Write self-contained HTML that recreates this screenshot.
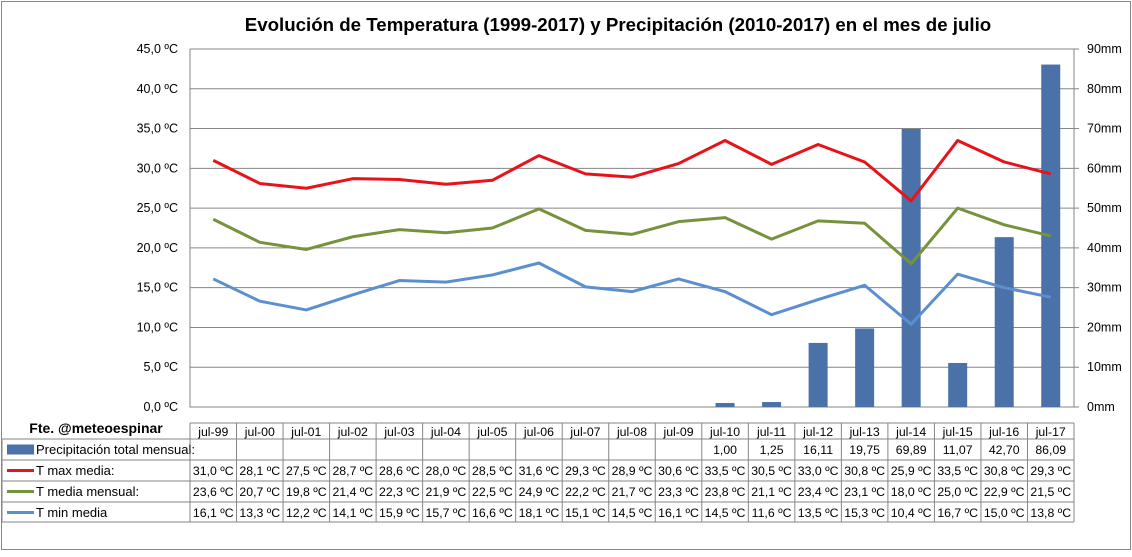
<!DOCTYPE html>
<html><head><meta charset="utf-8">
<style>
body{margin:0;background:#fff;}
svg text{font-family:"Liberation Sans",sans-serif;fill:#000;}
</style></head>
<body>
<svg id="c" width="1132" height="552" xmlns="http://www.w3.org/2000/svg">
<rect x="1.5" y="1.5" width="1129" height="548" fill="#fff" stroke="#888"/>
<text x="618" y="31" text-anchor="middle" font-size="18.7" font-weight="bold">Evolución de Temperatura (1999-2017) y Precipitación (2010-2017) en el mes de julio</text>
<text x="96" y="433" text-anchor="middle" font-size="14" font-weight="bold">Fte. @meteoespinar</text>
<g id="g"></g>
</svg>
<script>
const categories=["jul-99","jul-00","jul-01","jul-02","jul-03","jul-04","jul-05","jul-06","jul-07","jul-08","jul-09","jul-10","jul-11","jul-12","jul-13","jul-14","jul-15","jul-16","jul-17"];
const precip=[null,null,null,null,null,null,null,null,null,null,null,1.00,1.25,16.11,19.75,69.89,11.07,42.70,86.09];
const tmax=[31.0,28.1,27.5,28.7,28.6,28.0,28.5,31.6,29.3,28.9,30.6,33.5,30.5,33.0,30.8,25.9,33.5,30.8,29.3];
const tmed=[23.6,20.7,19.8,21.4,22.3,21.9,22.5,24.9,22.2,21.7,23.3,23.8,21.1,23.4,23.1,18.0,25.0,22.9,21.5];
const tmin=[16.1,13.3,12.2,14.1,15.9,15.7,16.6,18.1,15.1,14.5,16.1,14.5,11.6,13.5,15.3,10.4,16.7,15.0,13.8];
const leftTicks=[0,5,10,15,20,25,30,35,40,45];
const rightTicks=[0,10,20,30,40,50,60,70,80,90];

const NS="http://www.w3.org/2000/svg";
const g=document.getElementById('g');
const X0=190,X1=1074,Y0=407,Y1=49;
const cw=(X1-X0)/categories.length;
const xc=i=>X0+cw*(i+0.5);
const yT=v=>Y0-(v/45)*(Y0-Y1);
const yP=v=>Y0-(v/90)*(Y0-Y1);
function el(t,a,txt){const e=document.createElementNS(NS,t);for(const k in a)e.setAttribute(k,a[k]);if(txt!=null)e.textContent=txt;g.appendChild(e);return e;}

leftTicks.forEach(v=>{
  const y=yT(v);
  const l=el('line',{x1:X0,x2:X1,y1:y,y2:y,stroke:'#868686','stroke-width':1});
  
  
  const t=el('text',{x:178,y:y+4,'text-anchor':'end','font-size':12.5},v.toFixed(1).replace('.',',')+' ºC');
  
  
});
rightTicks.forEach(v=>{
  const y=yP(v);
  const l=el('line',{x1:X1,x2:X1+5,y1:y,y2:y,stroke:'#868686'});
  
  
  const t=el('text',{x:1087,y:y+4,'font-size':12.5},v+'mm');
  
  
});
const ax=el('path',{d:`M${X0} ${Y1}V${Y0}H${X1}V${Y1}`,fill:'none',stroke:'#868686'});



precip.forEach((v,i)=>{
  if(v==null)return;
  const r=el('rect',{x:xc(i)-9.5,y:yP(v),width:19,height:Y0-yP(v),fill:'#4a72a8'});
  
  
});
[[tmax,'#e8131a','tmax-line'],[tmed,'#76923c','tmed-line'],[tmin,'#5b8fd0','tmin-line']].forEach(([d,c,n])=>{
  const p=el('polyline',{points:d.map((v,i)=>xc(i)+','+yT(v)).join(' '),fill:'none',stroke:c,'stroke-width':3,'stroke-linejoin':'round'});
  
  
});

const rows=[423,439,460,481,502,522];
const tl='#868686';
el('line',{x1:X0,x2:X1,y1:rows[0],y2:rows[0],stroke:tl});
for(let r=1;r<rows.length;r++) el('line',{x1:2,x2:X1,y1:rows[r],y2:rows[r],stroke:tl});
el('line',{x1:2,x2:2,y1:rows[1],y2:rows[5],stroke:tl});
for(let i=0;i<=categories.length;i++){const x=X0+cw*i;el('line',{x1:x,x2:x,y1:rows[0],y2:rows[5],stroke:tl});}
categories.forEach((c,i)=>{
  const t=el('text',{x:xc(i),y:436,'text-anchor':'middle','font-size':12.3},c);
  
  
});
const series=[[precip,v=>v==null?'':v.toFixed(2).replace('.',',')],[tmax,v=>v.toFixed(1).replace('.',',')+' ºC'],[tmed,v=>v.toFixed(1).replace('.',',')+' ºC'],[tmin,v=>v.toFixed(1).replace('.',',')+' ºC']];
series.forEach(([d,f],r)=>{
  d.forEach((v,i)=>{
    const t=el('text',{x:xc(i),y:rows[r+1]+15,'text-anchor':'middle','font-size':12.3},f(v));
    
    
  });
});
const legend=[['Precipitación total mensual:','#4a72a8','bar'],['T max media:','#e8131a','line'],['T media mensual:','#76923c','line'],['T min media','#5b8fd0','line']];
legend.forEach(([n,c,k],r)=>{
  const y=rows[r+1]+10.5;
  if(k==='bar'){const m=el('rect',{x:7,y:y-5,width:27,height:10,fill:c});}
  else{const m=el('line',{x1:7,x2:34,y1:y,y2:y,stroke:c,'stroke-width':3});}
  const t=el('text',{x:36,y:y+4.5,'font-size':13},n);
  
  
});
</script>
</body></html>
